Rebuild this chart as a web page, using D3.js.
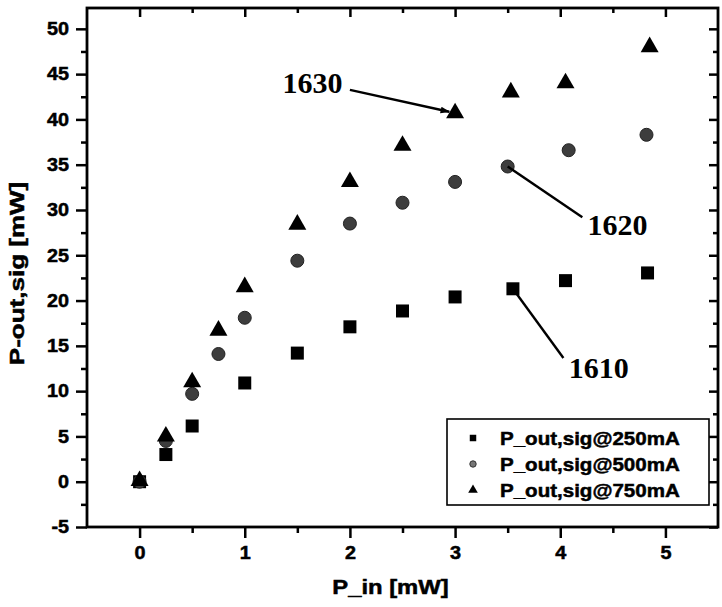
<!DOCTYPE html>
<html>
<head>
<meta charset="utf-8">
<script src="https://cdn.jsdelivr.net/npm/d3@7"></script>
<style>
  html, body { margin: 0; padding: 0; background: #fff; }
  svg { display: block; }
  .axis path, .axis line { stroke: #000; }
  .axis text { font-family: "Liberation Sans", Arial, sans-serif; font-weight: bold; font-size: 18px; fill: #000; stroke: #000; stroke-width: 0.5px; }
  .heavy { stroke: #000; stroke-width: 0.5px; }
</style>
</head>
<body>
<script>
// P_in [mW] vs P_out,sig [mW] for three pump currents
const pIn250 = [0, 0.25, 0.5, 1, 1.5, 2, 2.5, 3, 3.55, 4.05, 4.83];
const pOut250 = [0, 3.0, 6.15, 10.9, 14.2, 17.1, 18.85, 20.4, 21.3, 22.2, 23.05];

const pIn500 = [0, 0.25, 0.5, 0.75, 1, 1.5, 2, 2.5, 3, 3.5, 4.08, 4.82];
const pOut500 = [0, 4.5, 9.7, 14.1, 18.1, 24.4, 28.5, 30.8, 33.1, 34.8, 36.6, 38.3];

const pIn750 = [0, 0.25, 0.5, 0.75, 1, 1.5, 2, 2.5, 3, 3.53, 4.05, 4.85];
const pOut750 = [0.1, 5.0, 11.0, 16.7, 21.5, 28.4, 33.1, 37.1, 40.7, 43.0, 44.0, 48.0];

const seriesNames = ["P_out,sig@250mA", "P_out,sig@500mA", "P_out,sig@750mA"];

const xMajor = [0, 1, 2, 3, 4, 5];
const xMinor = [0.5, 1.5, 2.5, 3.5, 4.5];
const yMajor = [-5, 0, 5, 10, 15, 20, 25, 30, 35, 40, 45, 50];
const yMinor = [-2.5, 2.5, 7.5, 12.5, 17.5, 22.5, 27.5, 32.5, 37.5, 42.5, 47.5];

// wavelength annotations (data units): point, line end, label
const annoLabels = ["1630", "1620", "1610"];
const annoPointX = [3, 3.5, 3.55];
const annoPointY = [40.7, 34.8, 21.3];
const annoLineX = [2.0, 4.21, 4.03];
const annoLineY = [43.26, 29.2, 13.66];
const annoTextX = [1.36, 4.26, 4.08];
const annoTextY = [42.93, 27.25, 11.45];

const W = 722, H = 607;
const margin = { top: 8, right: 4, bottom: 80, left: 87 };

const svg = d3.select("body").append("svg").attr("width", W).attr("height", H);

const x = d3.scaleLinear().domain([-0.5, 5.5]).range([margin.left, W - margin.right]);
const y = d3.scaleLinear().domain([-5, 52.3]).range([H - margin.bottom, margin.top]);

function stretch(sel, k) {
  sel.each(function () {
    const w = this.getComputedTextLength();
    d3.select(this).attr("textLength", w * k).attr("lengthAdjust", "spacingAndGlyphs");
  });
}

const x0 = x.range()[0], x1 = x.range()[1];
const y0 = y.range()[0], y1 = y.range()[1];
const plain = d => String(d);

// minor ticks first
svg.append("g").attr("class", "axis").attr("transform", `translate(0,${y0})`)
  .call(d3.axisBottom(x).tickValues(xMinor).tickSize(6).tickSizeOuter(0).tickFormat(""))
  .call(g => g.select(".domain").remove());
svg.append("g").attr("class", "axis").attr("transform", `translate(${x0},0)`)
  .call(d3.axisLeft(y).tickValues(yMinor).tickSize(6).tickSizeOuter(0).tickFormat(""))
  .call(g => g.select(".domain").remove());
// mirrored ticks, inward
svg.append("g").attr("class", "axis").attr("transform", `translate(0,${y1})`)
  .call(d3.axisBottom(x).tickValues(xMajor).tickSize(9).tickSizeOuter(0).tickFormat(""))
  .call(g => g.select(".domain").remove());
svg.append("g").attr("class", "axis").attr("transform", `translate(0,${y1})`)
  .call(d3.axisBottom(x).tickValues(xMinor).tickSize(5).tickSizeOuter(0).tickFormat(""))
  .call(g => g.select(".domain").remove());
svg.append("g").attr("class", "axis").attr("transform", `translate(${x1},0)`)
  .call(d3.axisLeft(y).tickValues(yMajor).tickSize(9).tickSizeOuter(0).tickFormat(""))
  .call(g => g.select(".domain").remove());
svg.append("g").attr("class", "axis").attr("transform", `translate(${x1},0)`)
  .call(d3.axisLeft(y).tickValues(yMinor).tickSize(5).tickSizeOuter(0).tickFormat(""))
  .call(g => g.select(".domain").remove());

const xAxis = svg.append("g").attr("class", "axis").attr("transform", `translate(0,${y0})`)
  .call(d3.axisBottom(x).tickValues(xMajor).tickSize(11).tickSizeOuter(0).tickPadding(8).tickFormat(plain));
xAxis.select(".domain").remove();
stretch(xAxis.selectAll("text"), 1.1);

const yAxis = svg.append("g").attr("class", "axis").attr("transform", `translate(${x0},0)`)
  .call(d3.axisLeft(y).tickValues(yMajor).tickSize(11).tickSizeOuter(0).tickPadding(7).tickFormat(plain));
yAxis.select(".domain").remove();
stretch(yAxis.selectAll("text"), 1.1);

svg.selectAll(".axis line").attr("stroke-width", 2.5);

// frame
svg.append("rect")
  .attr("x", x0).attr("y", y1)
  .attr("width", x1 - x0).attr("height", y0 - y1)
  .attr("fill", "none").attr("stroke", "#000").attr("stroke-width", 2.8);

// axis titles
const xTitle = svg.append("text")
  .attr("class", "heavy")
  .attr("x", (x0 + x1) / 2 - 12).attr("y", 594)
  .attr("text-anchor", "middle")
  .attr("font-family", "Liberation Sans, Arial, sans-serif")
  .attr("font-weight", "bold").attr("font-size", 20)
  .text("P_in [mW]");
stretch(xTitle, 1.19);

const yTitle = svg.append("text")
  .attr("class", "heavy")
  .attr("transform", `translate(24,${(y0 + y1) / 2 + 6}) rotate(-90)`)
  .attr("text-anchor", "middle")
  .attr("font-family", "Liberation Sans, Arial, sans-serif")
  .attr("font-weight", "bold").attr("font-size", 20)
  .text("P-out,sig [mW]");
stretch(yTitle, 1.3);

// markers
const sym250 = d3.symbol().type(d3.symbolSquare).size(169);
const sym500 = d3.symbol().type(d3.symbolCircle).size(133);
const sym750 = d3.symbol().type(d3.symbolTriangle).size(140);

svg.append("g").selectAll("path").data(d3.range(pIn250.length)).join("path")
  .attr("d", sym250)
  .attr("transform", i => `translate(${x(pIn250[i])},${y(pOut250[i])})`)
  .attr("fill", "#000");

svg.append("g").selectAll("path").data(d3.range(pIn500.length)).join("path")
  .attr("d", sym500)
  .attr("transform", i => `translate(${x(pIn500[i])},${y(pOut500[i])})`)
  .attr("fill", "#3d3d3d").attr("stroke", "#222").attr("stroke-width", 1);

svg.append("g").selectAll("path").data(d3.range(pIn750.length)).join("path")
  .attr("d", sym750)
  .attr("transform", i => `translate(${x(pIn750[i])},${y(pOut750[i])})`)
  .attr("fill", "#000");

// annotations
svg.append("defs").append("marker")
  .attr("id", "arrow").attr("viewBox", "0 0 10 10")
  .attr("refX", 9).attr("refY", 5)
  .attr("markerWidth", 4).attr("markerHeight", 4)
  .attr("orient", "auto")
  .append("path").attr("d", "M0,1.5L10,5L0,8.5Z").attr("fill", "#000");

annoLabels.forEach((label, i) => {
  const px = x(annoPointX[i]), py = y(annoPointY[i]);
  const lx = x(annoLineX[i]), ly = y(annoLineY[i]);
  const line = svg.append("line").attr("stroke", "#000").attr("stroke-width", 2.4);
  if (i === 0) {
    // arrow from label toward the triangle
    const dx = px - lx, dy = py - ly, len = Math.hypot(dx, dy);
    line.attr("x1", lx).attr("y1", ly)
      .attr("x2", px - dx / len * 6).attr("y2", py - dy / len * 6)
      .attr("marker-end", "url(#arrow)");
  } else {
    line.attr("x1", px).attr("y1", py).attr("x2", lx).attr("y2", ly);
  }
  svg.append("text")
    .attr("x", x(annoTextX[i])).attr("y", y(annoTextY[i]))
    .attr("font-family", "Liberation Serif, Times New Roman, serif")
    .attr("font-weight", "bold").attr("font-size", 30)
    .text(label);
});

// legend
const legend = svg.append("g");
legend.append("rect")
  .attr("x", 447).attr("y", 419).attr("width", 262).attr("height", 86)
  .attr("fill", "#fff").attr("stroke", "#000").attr("stroke-width", 1.6);

const legSyms = [
  d3.symbol().type(d3.symbolSquare).size(42),
  d3.symbol().type(d3.symbolCircle).size(32),
  d3.symbol().type(d3.symbolTriangle).size(40)
];
const legFill = ["#000", "#777", "#000"];

seriesNames.forEach((name, i) => {
  const ry = 438 + i * 26;
  legend.append("path")
    .attr("d", legSyms[i])
    .attr("transform", `translate(473,${ry})`)
    .attr("fill", legFill[i]).attr("stroke", i === 1 ? "#333" : "none");
  const t = legend.append("text")
    .attr("class", "heavy")
    .attr("x", 500).attr("y", ry).attr("dy", "0.36em")
    .attr("font-family", "Liberation Sans, Arial, sans-serif")
    .attr("font-weight", "bold").attr("font-size", 18.5)
    .text(name);
  stretch(t, 1.11);
});
</script>
</body>
</html>
